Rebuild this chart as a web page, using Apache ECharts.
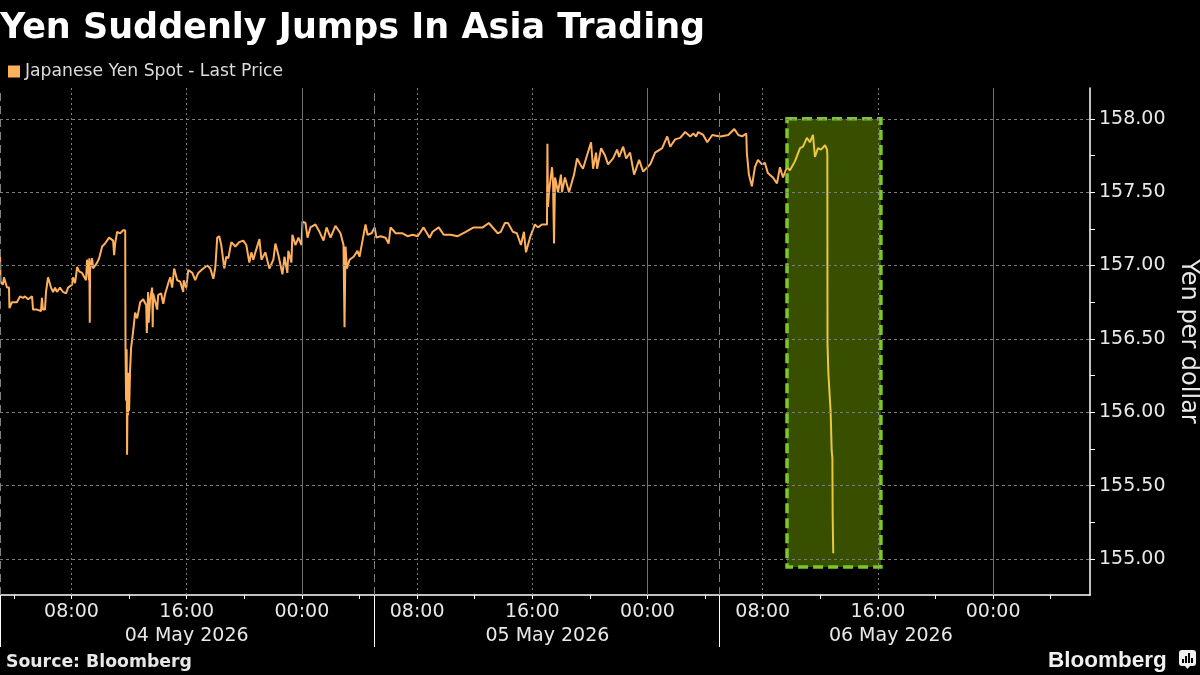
<!DOCTYPE html>
<html lang="en">
<head>
    <meta charset="utf-8"/>
    <title>Yen Suddenly Jumps In Asia Trading</title>
    <script src="https://cdn.jsdelivr.net/npm/echarts@6/dist/echarts.min.js"></script>
    <style type="text/css">
        html, body { height:100%; margin:0; background:#000; }
        #main_1 { width:1200px; height:675px; }
    </style>
</head>
<body>
<div id="main_1"></div>
<script>
// hours counted from 04 May 2026 00:00
var hours = [
    3.04,3.07,3.24,3.31,3.52,3.66,3.69,3.86,4.21,4.42,4.63,4.77,4.98,5.26,5.33,5.60,5.88,5.95,6.02,6.16,
    6.23,6.37,6.58,6.72,6.86,6.99,7.20,7.41,7.62,7.76,8.04,8.11,8.25,8.39,8.53,8.73,9.01,9.08,9.22,9.24,
    9.27,9.29,9.43,9.50,9.78,9.92,10.13,10.33,10.61,10.89,10.96,11.03,11.17,11.38,11.59,11.73,11.75,11.79,11.83,11.86,
    11.90,11.93,11.97,12.00,12.07,12.14,12.28,12.42,12.56,12.77,12.98,13.19,13.23,13.32,13.36,13.46,13.60,13.64,13.67,13.95,
    14.02,14.23,14.37,14.51,14.72,14.86,14.99,15.13,15.34,15.55,15.76,15.79,15.97,16.11,16.39,16.59,16.80,17.15,17.43,17.64,
    17.85,17.99,18.12,18.26,18.40,18.61,18.75,18.89,19.10,19.38,19.65,19.93,20.14,20.35,20.49,20.63,20.77,21.05,21.19,21.46,
    21.74,22.02,22.16,22.37,22.65,22.79,22.99,23.06,23.27,23.34,23.55,23.76,23.97,24.04,24.25,24.39,24.59,24.94,25.22,25.50,
    25.71,25.99,26.33,26.68,26.89,26.96,27.03,27.13,27.31,27.59,27.86,28.00,28.21,28.42,28.56,28.84,29.05,29.18,29.46,29.81,
    30.02,30.16,30.51,30.99,31.34,31.69,32.04,32.45,32.87,33.08,33.50,33.85,34.33,34.82,35.38,35.93,36.56,36.98,37.60,37.81,
    38.10,38.31,38.65,38.93,39.21,39.42,39.56,39.84,40.18,40.39,40.67,41.02,41.05,41.09,41.16,41.37,41.44,41.51,41.58,41.79,
    41.99,42.06,42.27,42.55,42.90,43.11,43.32,43.52,44.08,44.22,44.43,44.50,44.78,45.05,45.26,45.61,45.89,46.03,46.31,46.52,
    46.79,47.07,47.42,47.70,48.19,48.53,49.02,49.37,49.58,49.92,50.27,50.62,50.97,51.18,51.38,51.52,51.87,52.15,52.50,53.05,
    53.61,54.03,54.31,54.58,54.86,54.90,55.04,55.25,55.46,55.67,55.95,56.15,56.36,56.71,56.99,57.20,57.41,57.68,57.89,58.24,
    58.59,58.80,59.07,59.28,59.49,59.63,59.84,60.05,60.33,60.47,60.49,60.50,60.56,60.72,60.79,60.84,60.86,60.90
];
var prices = [
    157.06,156.89,156.87,156.92,156.85,156.85,156.71,156.75,156.75,156.79,156.78,156.79,156.77,156.79,156.70,156.70,156.69,156.78,156.70,156.70,
    156.82,156.92,156.85,156.82,156.85,156.82,156.85,156.82,156.81,156.85,156.87,156.92,156.88,156.99,156.96,156.95,156.90,157.04,156.90,157.05,
    156.61,156.97,157.05,156.98,157.02,157.05,157.13,157.15,157.19,157.17,157.07,157.15,157.23,157.22,157.24,157.24,156.46,156.08,156.43,155.71,
    156.22,155.98,156.27,156.01,156.29,156.44,156.55,156.68,156.64,156.75,156.77,156.73,156.54,156.82,156.61,156.77,156.85,156.58,156.81,156.70,
    156.80,156.81,156.74,156.81,156.88,156.92,156.85,156.98,156.90,156.89,156.82,156.90,156.85,156.97,156.95,156.90,156.95,156.98,157.00,156.98,
    156.91,156.99,157.19,157.20,157.14,156.98,157.06,157.05,157.16,157.13,157.16,157.17,157.14,157.02,157.09,157.04,157.09,157.18,157.04,157.09,
    156.98,157.04,157.15,157.07,156.94,157.06,156.95,157.10,157.02,157.21,157.14,157.19,157.14,157.30,157.29,157.19,157.26,157.28,157.23,157.17,
    157.26,157.19,157.27,157.22,157.14,156.58,157.13,156.98,157.04,157.06,157.10,157.06,157.17,157.28,157.21,157.22,157.26,157.19,157.20,157.19,
    157.15,157.26,157.22,157.22,157.20,157.21,157.20,157.26,157.19,157.23,157.26,157.21,157.21,157.20,157.23,157.26,157.26,157.29,157.22,157.23,
    157.29,157.29,157.23,157.22,157.14,157.23,157.09,157.19,157.28,157.26,157.28,157.28,157.83,157.40,157.50,157.67,157.57,157.15,157.60,157.50,
    157.62,157.50,157.60,157.50,157.62,157.73,157.69,157.66,157.84,157.66,157.77,157.66,157.80,157.75,157.69,157.73,157.79,157.74,157.81,157.73,
    157.77,157.62,157.72,157.64,157.69,157.77,157.80,157.88,157.81,157.86,157.87,157.91,157.88,157.90,157.88,157.91,157.89,157.84,157.89,157.88,
    157.89,157.93,157.89,157.88,157.90,157.77,157.62,157.54,157.67,157.72,157.69,157.70,157.63,157.60,157.56,157.67,157.60,157.67,157.65,157.71,
    157.80,157.81,157.87,157.84,157.89,157.74,157.80,157.79,157.82,157.79,157.75,156.47,156.27,156.00,155.74,155.69,155.29,155.04
];

var xMin = 3.035, xMax = 78.73;
var yMin = 154.755, yMax = 158.21;

var hourTicks = [4,8,12,16,20,24,28,32,36,40,44,48,52,56,60,64,68,72,76];
var hourLabels = [8,16,24,32,40,48,56,64,72];
var dottedHours = [8,16,32,40,56,64];
var solidHours = [24,48,72];
var dayBreaks = [3.06,29.05,53];
var dayLabelHours = [16,41.05,64.9];
var dayLabelText = ['04 May 2026','05 May 2026','06 May 2026'];

var priceTicks = [155,155.25,155.5,155.75,156,156.25,156.5,156.75,157,157.25,157.5,157.75,158];
var priceLabels = [155,155.5,156,156.5,157,157.5,158];

var boxHours = [57.69,64.21];
var boxPrices = [154.945,158];

var lineColor = '#ffb05c';
var textColor = '#e8e8e8';
var fontName = '"DejaVu Sans"';

var lineData = [];
for (var i = 0; i < hours.length; i++) {
    lineData.push([hours[i], prices[i]]);
}

// grid lines go in a markLine so they do not have to follow the axis ticks
var gridLines = [];
priceLabels.forEach(function (p) {
    gridLines.push({yAxis: p, lineStyle: {color: '#7c7c7c', type: [3, 3], width: 1}});
});
dottedHours.forEach(function (h) {
    gridLines.push({xAxis: h, lineStyle: {color: '#7c7c7c', type: [2, 3], width: 1}});
});
solidHours.forEach(function (h) {
    gridLines.push({xAxis: h, lineStyle: {color: '#707070', type: 'solid', width: 1}});
});
dayBreaks.forEach(function (h) {
    gridLines.push({xAxis: h, lineStyle: {color: '#808080', type: [8, 5], width: 1}});
});

function hourText(v) {
    var h = v % 24;
    return (h < 10 ? '0' : '') + h + ':00';
}

var myChart = echarts.init(document.getElementById('main_1'));

var option = {
    animation: false,
    backgroundColor: '#000',
    textStyle: {fontFamily: fontName},
    title: {
        text: 'Yen Suddenly Jumps In Asia Trading',
        left: 0,
        top: 11,
        padding: 0,
        textStyle: {color: '#fff', fontSize: 35, fontWeight: 'bold', fontFamily: fontName}
    },
    legend: {
        left: 8,
        top: 63,
        padding: 0,
        itemWidth: 12,
        itemHeight: 12,
        icon: 'rect',
        data: ['Japanese Yen Spot - Last Price'],
        textStyle: {color: '#dcdcdc', fontSize: 17.2, fontFamily: fontName}
    },
    grid: {left: 0, right: 110, top: 88, bottom: 80, outerBoundsMode: 'none'},
    xAxis: [{
        type: 'value',
        min: xMin,
        max: xMax,
        axisLine: {onZero: false, lineStyle: {color: '#fff', width: 1.5}},
        axisTick: {customValues: hourTicks, length: 4, lineStyle: {color: '#fff'}},
        axisLabel: {
            customValues: hourLabels,
            formatter: hourText,
            color: textColor,
            fontSize: 19,
            margin: 8
        },
        splitLine: {show: false}
    }, {
        type: 'value',
        position: 'bottom',
        min: xMin,
        max: xMax,
        axisLine: {show: false},
        axisTick: {customValues: dayBreaks, length: 52, lineStyle: {color: '#fff'}},
        axisLabel: {
            customValues: dayLabelHours,
            formatter: function (v) {
                return dayLabelText[dayLabelHours.indexOf(v)];
            },
            color: textColor,
            fontSize: 19,
            margin: 32
        },
        splitLine: {show: false}
    }],
    yAxis: {
        type: 'value',
        position: 'right',
        min: yMin,
        max: yMax,
        name: 'Yen per dollar',
        nameLocation: 'middle',
        nameRotate: -90,
        nameGap: 79,
        nameTextStyle: {color: textColor, fontSize: 24},
        axisLine: {show: true, onZero: false, lineStyle: {color: '#fff', width: 1.5}},
        axisTick: {show: true, customValues: priceTicks, length: 5, lineStyle: {color: '#fff'}},
        axisLabel: {
            customValues: priceLabels,
            formatter: function (v) { return v.toFixed(2); },
            color: textColor,
            fontSize: 19,
            margin: 9,
            padding: [4, 0, 0, 0]
        },
        splitLine: {show: false}
    },
    series: [{
        name: 'Japanese Yen Spot - Last Price',
        type: 'line',
        data: lineData,
        showSymbol: false,
        silent: true,
        z: 1,
        itemStyle: {color: lineColor},
        lineStyle: {color: lineColor, width: 2}
    }, {
        name: 'box',
        type: 'line',
        data: [],
        silent: true,
        z: 5,
        markArea: {
            silent: true,
            z: 5,
            itemStyle: {
                color: 'rgba(183,255,0,0.31)',
                borderColor: '#7cc828',
                borderWidth: 3.5,
                borderType: [10, 5]
            },
            data: [[{xAxis: boxHours[0], yAxis: boxPrices[1]}, {xAxis: boxHours[1], yAxis: boxPrices[0]}]]
        }
    }, {
        name: 'grid',
        type: 'line',
        data: [],
        silent: true,
        z: 6,
        markLine: {
            silent: true,
            z: 6,
            symbol: 'none',
            label: {show: false},
            animation: false,
            data: gridLines
        }
    }],
    graphic: [{
        type: 'text',
        left: 6,
        top: 654,
        style: {text: 'Source: Bloomberg', fill: textColor, font: 'bold 17.3px "DejaVu Sans"'}
    }, {
        type: 'text',
        left: 1048,
        top: 649,
        style: {text: 'Bloomberg', fill: '#f0f0f0', font: 'bold 22.5px "Liberation Sans"'}
    }, {
        // logo mark: rounded bubble with small bars cut out of it
        type: 'group',
        left: 1179,
        top: 650,
        children: [
            {type: 'rect', shape: {x: 0, y: 0, width: 17, height: 16, r: 3}, style: {fill: '#f0f0f0'}},
            {type: 'polygon', shape: {points: [[6, 16], [11, 16], [8.5, 19]]}, style: {fill: '#f0f0f0'}},
            {type: 'rect', shape: {x: 3, y: 9, width: 2, height: 4}, style: {fill: '#000'}},
            {type: 'rect', shape: {x: 6, y: 6, width: 2, height: 7}, style: {fill: '#000'}},
            {type: 'rect', shape: {x: 9, y: 3, width: 2, height: 10}, style: {fill: '#000'}},
            {type: 'rect', shape: {x: 12, y: 8, width: 2, height: 5}, style: {fill: '#000'}}
        ]
    }]
};

myChart.setOption(option);
</script>
</body>
</html>
